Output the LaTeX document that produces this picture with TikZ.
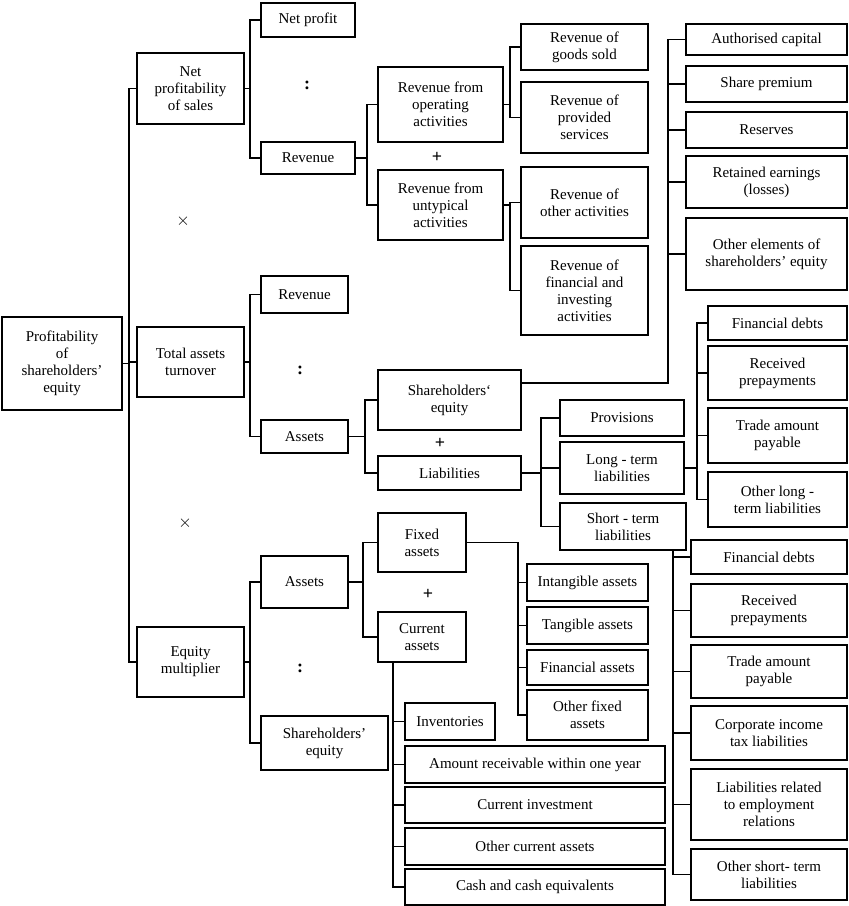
\documentclass[tikz,border=0pt]{standalone}
\usepackage{fontspec}
\setmainfont{Liberation Serif}
\begin{document}
\begin{tikzpicture}[x=1pt,y=-1pt,
  box/.style={draw,line width=1.1pt,inner sep=1pt,align=center,font=\fontsize{15}{17}\selectfont},
  ln/.style={line width=1.1pt},
  sym/.style={font=\fontsize{18}{18}\selectfont\bfseries}]
\useasboundingbox (0,0) rectangle (849,906);
\newcommand\B[6]{\pgfmathsetmacro\bw{#4-#2}\pgfmathsetmacro\bh{#5-#3}%
  \node[box,minimum width=\bw pt,minimum height=\bh pt] (#1) at ({(#2+#4)/2},{(#3+#5)/2}) {#6};}
\newcommand\C[3]{\coordinate (tmpx) at (#2,0); \draw[ln] (#1.east) -- (#1.east -| tmpx) |- (#3.west);}
% root and level 1
\B{root}{2}{317}{122}{410}{Profitability\\of\\shareholders'\\equity}
\B{nps}{137}{53}{244}{124}{Net\\profitability\\of sales}
\B{tat}{137}{327}{244}{397}{Total assets\\turnover}
\B{em}{137}{627}{244}{697}{Equity\\multiplier}
\C{root}{129}{nps}\C{root}{129}{tat}\C{root}{129}{em}
\node[font=\fontsize{17}{17}\selectfont] (x1) at (183,221) {$\times$};
\node[font=\fontsize{17}{17}\selectfont] (x2) at (185,523) {$\times$};
% net profitability
\B{np}{261}{3}{355}{37}{Net profit}
\B{rev1}{261}{142}{355}{174}{Revenue}
\C{nps}{250}{np}\C{nps}{250}{rev1}
\node[sym] (d1) at (307,85) {:};
\B{rop}{378}{67}{503}{142}{Revenue from\\operating\\activities}
\B{run}{378}{170}{503}{240}{Revenue from\\untypical\\activities}
\C{rev1}{367}{rop}\C{rev1}{367}{run}
\node[sym] (p1) at (437,157) {+};
\B{rgs}{521}{24}{648}{70}{Revenue of\\goods sold}
\B{rps}{521}{82}{648}{153}{Revenue of\\provided\\services}
\C{rop}{510}{rgs}\C{rop}{510}{rps}
\B{roa}{521}{167}{648}{238}{Revenue of\\other activities}
\B{rfi}{521}{246}{648}{335}{Revenue of\\financial and\\investing\\activities}
\C{run}{510}{roa}\C{run}{510}{rfi}
% total assets turnover
\B{rev2}{261}{276}{348}{313}{Revenue}
\B{as1}{261}{420}{348}{453}{Assets}
\C{tat}{250}{rev2}\C{tat}{250}{as1}
\node[sym] (d2) at (300,370) {:};
\B{she}{378}{370}{521}{430}{Shareholders`\\equity}
\B{lia}{378}{456}{521}{490}{Liabilities}
\C{as1}{365}{she}\C{as1}{365}{lia}
\node[sym] (p2) at (440,443) {+};
\B{ac}{686}{24}{847}{55}{Authorised capital}
\B{sp}{686}{66}{847}{102}{Share premium}
\B{res}{686}{112}{847}{148}{Reserves}
\B{re}{686}{156}{847}{208}{Retained earnings\\(losses)}
\B{oe}{686}{218}{847}{290}{Other elements of\\shareholders' equity}
\coordinate (sx) at (668,0);
\coordinate (she1) at (521,383);
\draw[ln] (she1) -- (she1 -| sx) |- (ac.west);
\foreach \t in {sp,res,re,oe} {\draw[ln] (sx |- \t.west) -- (\t.west);}
\B{pro}{560}{400}{684}{436}{Provisions}
\B{ltl}{560}{442}{684}{494}{Long - term\\liabilities}
\B{stl}{560}{503}{686}{550}{Short - term\\liabilities}
\C{lia}{541}{pro}\C{lia}{541}{ltl}\C{lia}{541}{stl}
\B{fd1}{708}{306}{847}{340}{Financial debts}
\B{rp1}{708}{346}{847}{400}{Received\\prepayments}
\B{ta1}{708}{408}{847}{463}{Trade amount\\payable}
\B{ol1}{708}{472}{847}{527}{Other long -\\term liabilities}
\C{ltl}{697}{fd1}\C{ltl}{697}{rp1}\C{ltl}{697}{ta1}\C{ltl}{697}{ol1}
\B{fd2}{691}{540}{847}{574}{Financial debts}
\B{rp2}{691}{584}{847}{637}{Received\\prepayments}
\B{ta2}{691}{645}{847}{698}{Trade amount\\payable}
\B{ci2}{691}{706}{847}{760}{Corporate income\\tax liabilities}
\B{le2}{691}{769}{847}{840}{Liabilities related\\to employment\\relations}
\B{os2}{691}{849}{847}{900}{Other short- term\\liabilities}
\coordinate (stb) at (673,550);
\foreach \t in {fd2,rp2,ta2,ci2,le2,os2} {\draw[ln] (stb) |- (\t.west);}
% equity multiplier
\B{as2}{261}{556}{348}{608}{Assets}
\B{she2}{261}{716}{388}{770}{Shareholders'\\equity}
\C{em}{250}{as2}\C{em}{250}{she2}
\node[sym] (d3) at (300,668) {:};
\B{fa}{378}{513}{466}{572}{Fixed\\assets}
\B{ca}{378}{612}{466}{662}{Current\\assets}
\C{as2}{363}{fa}\C{as2}{363}{ca}
\node[sym] (p3) at (428,594) {+};
\B{ia}{527}{564}{648}{601}{Intangible assets}
\B{tga}{527}{607}{648}{644}{Tangible assets}
\B{fia}{527}{650}{648}{685}{Financial assets}
\B{ofa}{527}{690}{648}{740}{Other fixed\\assets}
\C{fa}{518}{ia}\C{fa}{518}{tga}\C{fa}{518}{fia}\C{fa}{518}{ofa}
\B{inv}{405}{703}{495}{740}{Inventories}
\B{arv}{405}{746}{665}{783}{Amount receivable within one year}
\B{civ}{405}{787}{665}{823}{Current investment}
\B{oca}{405}{828}{665}{865}{Other current assets}
\B{cce}{405}{869}{665}{905}{Cash and cash equivalents}
\coordinate (cab) at (393,662);
\foreach \t in {inv,arv,civ,oca,cce} {\draw[ln] (cab) |- (\t.west);}
\end{tikzpicture}
\end{document}
